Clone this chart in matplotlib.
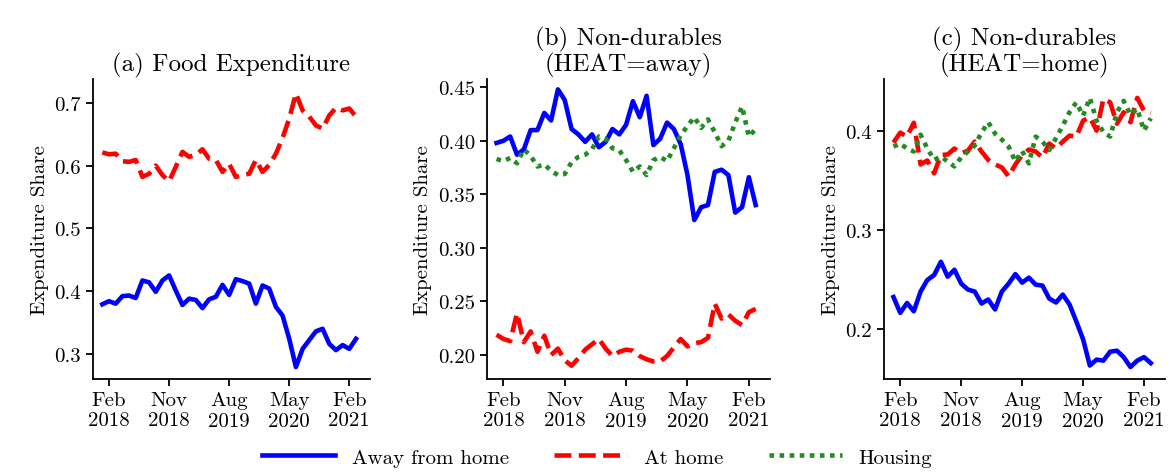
import matplotlib
matplotlib.use("Agg")
import matplotlib.pyplot as plt
import numpy as np

plt.rcParams['font.family'] = ['cmr10', 'DejaVu Serif']
plt.rcParams['axes.formatter.use_mathtext'] = True
plt.rcParams['mathtext.fontset'] = 'cm'

months = np.arange(39)  # Jan 2018 .. Mar 2021
tick_pos = [1, 10, 19, 28, 37]
tick_labels = ["Feb\n2018", "Nov\n2018", "Aug\n2019", "May\n2020", "Feb\n2021"]

food_away = [0.379,0.384,0.380,0.392,0.393,0.389,0.417,0.414,0.399,0.417,0.425,0.401,0.378,0.388,0.386,0.373,0.387,0.391,0.410,0.394,0.419,0.416,0.412,0.380,0.409,0.404,0.375,0.361,0.324,0.279,0.308,0.322,0.336,0.340,0.316,0.306,0.314,0.308,0.324]
food_home = [0.621,0.618,0.619,0.607,0.606,0.609,0.582,0.587,0.600,0.585,0.575,0.598,0.622,0.614,0.617,0.626,0.611,0.609,0.590,0.603,0.582,0.585,0.587,0.609,0.590,0.601,0.619,0.644,0.675,0.715,0.688,0.678,0.664,0.659,0.680,0.692,0.688,0.691,0.678]

nd_away_away = [0.398,0.400,0.404,0.387,0.392,0.410,0.410,0.426,0.419,0.448,0.438,0.411,0.406,0.399,0.406,0.394,0.399,0.411,0.406,0.415,0.437,0.422,0.442,0.396,0.402,0.417,0.411,0.397,0.368,0.326,0.338,0.340,0.371,0.373,0.368,0.333,0.338,0.366,0.340]
nd_away_home = [0.219,0.215,0.213,0.239,0.212,0.222,0.203,0.218,0.200,0.206,0.195,0.190,0.197,0.205,0.210,0.215,0.206,0.199,0.203,0.205,0.204,0.199,0.196,0.194,0.194,0.199,0.207,0.215,0.208,0.211,0.212,0.216,0.248,0.234,0.238,0.232,0.228,0.240,0.243]
nd_away_housing = [0.383,0.381,0.384,0.379,0.392,0.386,0.376,0.378,0.372,0.368,0.369,0.380,0.385,0.387,0.392,0.404,0.402,0.393,0.391,0.382,0.371,0.376,0.368,0.382,0.385,0.381,0.393,0.405,0.414,0.422,0.412,0.420,0.408,0.395,0.400,0.417,0.432,0.404,0.411]

nd_home_away = [0.2325,0.2166,0.2265,0.2182,0.238,0.2497,0.2546,0.268,0.253,0.260,0.246,0.240,0.238,0.226,0.230,0.220,0.238,0.246,0.2556,0.247,0.252,0.245,0.244,0.231,0.227,0.235,0.225,0.208,0.190,0.1636,0.1695,0.1685,0.1775,0.1785,0.172,0.162,0.1685,0.172,0.166]
nd_home_home = [0.388,0.398,0.394,0.408,0.366,0.370,0.357,0.3755,0.376,0.382,0.377,0.380,0.389,0.379,0.3705,0.366,0.363,0.354,0.366,0.3755,0.381,0.379,0.373,0.387,0.382,0.389,0.395,0.394,0.410,0.4135,0.400,0.432,0.4285,0.407,0.4185,0.4085,0.433,0.420,0.418]
nd_home_housing = [0.384,0.387,0.382,0.379,0.396,0.382,0.3705,0.374,0.369,0.364,0.373,0.379,0.385,0.398,0.4085,0.397,0.391,0.384,0.369,0.3795,0.367,0.394,0.389,0.3805,0.3925,0.405,0.4185,0.4285,0.415,0.433,0.410,0.3985,0.394,0.4185,0.430,0.416,0.422,0.400,0.4125]

fig = plt.figure(figsize=(11.71, 4.77), dpi=100)
W, H = 1171, 477
def ax_at(l, r, t=80, b=380):
    return fig.add_axes([l/W, 1-b/H, (r-l)/W, (b-t)/H])

axes = [ax_at(93, 370), ax_at(487, 770), ax_at(884, 1165)]
titles = ["(a) Food Expenditure", "(b) Non-durables\n(HEAT=away)", "(c) Non-durables\n(HEAT=home)"]
ylims = [(0.26, 0.738), (0.1776, 0.4577), (0.15, 0.452)]
yticks = [[0.3, 0.4, 0.5, 0.6, 0.7], [0.20, 0.25, 0.30, 0.35, 0.40, 0.45], [0.2, 0.3, 0.4]]
yfmt = ["%.1f", "%.2f", "%.1f"]
data = [(food_away, food_home, None), (nd_away_away, nd_away_home, nd_away_housing), (nd_home_away, nd_home_home, nd_home_housing)]

lw = 3.3
for ax, ttl, yl, yt, f, (a, h, hs) in zip(axes, titles, ylims, yticks, yfmt, data):
    la, = ax.plot(months, a, color='blue', lw=lw, label='Away from home')
    lh, = ax.plot(months, h, color='red', lw=lw, ls=(0, (3.7, 1.6)), label='At home')
    if hs is not None:
        lg, = ax.plot(months, hs, color='forestgreen', lw=lw, ls=(0, (1, 1.2)), label='Housing')
    ax.set_ylim(*yl)
    ax.set_xlim(-1.4, 40.1)
    ax.set_yticks(yt)
    ax.set_yticklabels([f % v for v in yt])
    ax.set_xticks(tick_pos)
    ax.set_xticklabels(tick_labels)
    ax.set_title(ttl, fontsize=18, linespacing=1.05)
    ax.set_ylabel("Expenditure Share", fontsize=15)
    ax.tick_params(labelsize=15, width=1.3, length=5)
    for s in ['top', 'right']:
        ax.spines[s].set_visible(False)
    for s in ['left', 'bottom']:
        ax.spines[s].set_linewidth(1.3)

fig.legend(handles=[la, lh, lg], loc='lower center', ncol=3, frameon=False,
           fontsize=15, bbox_to_anchor=(0.51, -0.02), handlelength=3.5, columnspacing=2.2)
fig.savefig("out.png", dpi=100)
